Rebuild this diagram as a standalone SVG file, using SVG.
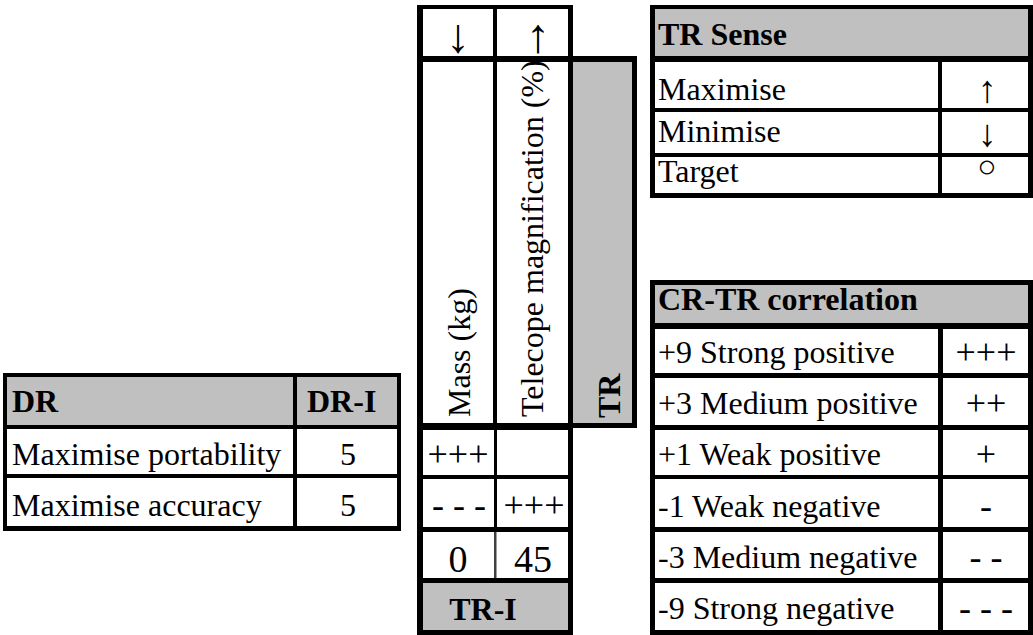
<svg xmlns="http://www.w3.org/2000/svg" width="1033" height="635" viewBox="0 0 1033 635">
<style>
.k{fill:#000}
.g{fill:#c0c0c0}
</style>
<rect fill="#fff" x="0" y="0" width="1033" height="635"/>

<g id="dr-table">
<rect class="g" x="7" y="377" width="390" height="48"/>
<rect class="k" x="3" y="373" width="398" height="4"/>
<rect class="k" x="3" y="373" width="4" height="158"/>
<rect class="k" x="397" y="373" width="4" height="158"/>
<rect class="k" x="293" y="373" width="4" height="158"/>
<rect class="k" x="3" y="425" width="398" height="4"/>
<rect class="k" x="3" y="474" width="398" height="4"/>
<rect class="k" x="3" y="526" width="398" height="5"/>
<text font-family="Liberation Serif" font-size="32" font-weight="bold" x="12" y="412">DR</text>
<text font-family="Liberation Serif" font-size="32" font-weight="bold" x="307" y="412">DR-I</text>
<text font-family="Liberation Serif" font-size="32" x="12" y="465">Maximise portability</text>
<text font-family="Liberation Serif" font-size="32" text-anchor="middle" x="348" y="465">5</text>
<text font-family="Liberation Serif" font-size="32" x="12" y="516">Maximise accuracy</text>
<text font-family="Liberation Serif" font-size="32" text-anchor="middle" x="348" y="516">5</text>
</g>

<g id="tr-matrix">
<rect class="g" x="573" y="62" width="59" height="361"/>
<rect class="g" x="423" y="583" width="145" height="47"/>
<rect class="k" x="417" y="5" width="6" height="630"/>
<rect class="k" x="417" y="5" width="156" height="4"/>
<rect class="k" x="417" y="56" width="220" height="6"/>
<rect class="k" x="568" y="5" width="5" height="630"/>
<rect class="k" x="632" y="56" width="5" height="372"/>
<rect class="k" x="568" y="423" width="69" height="5"/>
<rect class="k" x="417" y="423" width="156" height="7"/>
<rect class="k" x="417" y="475" width="156" height="4"/>
<rect class="k" x="417" y="527" width="156" height="5"/>
<rect class="k" x="417" y="578" width="156" height="5"/>
<rect class="k" x="417" y="630" width="156" height="5"/>
<rect class="k" x="493" y="5" width="4" height="425"/>
<rect class="k" x="494" y="430" width="3" height="102"/>
<rect fill="#404040" x="494" y="532" width="2.5" height="46"/>
<text font-family="Liberation Serif" font-size="48" text-anchor="middle" x="458" y="52">↓</text>
<text font-family="Liberation Serif" font-size="48" text-anchor="middle" x="538" y="52">↑</text>
<text font-family="Liberation Serif" font-size="32" transform="translate(470,417) rotate(-90)">Mass (kg)</text>
<text font-family="Liberation Serif" font-size="32" transform="translate(543,417) rotate(-90)">Telecope magnification (%)</text>
<text font-family="Liberation Serif" font-size="32" font-weight="bold" transform="translate(620,418) rotate(-90)">TR</text>
<text font-family="Liberation Serif" font-size="36" text-anchor="middle" x="458" y="466">+++</text>
<text font-family="Liberation Serif" font-size="36" text-anchor="middle" x="459" y="517">- - -</text>
<text font-family="Liberation Serif" font-size="36" text-anchor="middle" x="534" y="517">+++</text>
<text font-family="Liberation Serif" font-size="38" text-anchor="middle" x="458" y="572">0</text>
<text font-family="Liberation Serif" font-size="38" text-anchor="middle" x="533" y="572">45</text>
<text font-family="Liberation Serif" font-size="32" font-weight="bold" text-anchor="middle" x="483" y="620">TR-I</text>
</g>

<g id="tr-sense">
<rect class="g" x="655" y="9" width="373" height="47"/>
<rect class="k" x="650" y="5" width="383" height="4"/>
<rect class="k" x="650" y="5" width="5" height="193"/>
<rect class="k" x="1028" y="5" width="5" height="193"/>
<rect class="k" x="650" y="56" width="383" height="6"/>
<rect class="k" x="650" y="108" width="383" height="4"/>
<rect class="k" x="650" y="153" width="383" height="4"/>
<rect class="k" x="650" y="193" width="383" height="5"/>
<rect class="k" x="938" y="62" width="4" height="131"/>
<text font-family="Liberation Serif" font-size="32" font-weight="bold" x="658" y="45">TR Sense</text>
<text font-family="Liberation Serif" font-size="32" x="658" y="100">Maximise</text>
<text font-family="Liberation Serif" font-size="32" x="658" y="142">Minimise</text>
<text font-family="Liberation Serif" font-size="32" x="658" y="182">Target</text>
<text font-family="Liberation Serif" font-size="38" text-anchor="middle" x="987" y="102">↑</text>
<text font-family="Liberation Serif" font-size="38" text-anchor="middle" x="987" y="146">↓</text>
<text font-family="Liberation Serif" font-size="32" text-anchor="middle" x="987" y="177">○</text>
</g>

<g id="cr-tr-correlation">
<rect class="g" x="655" y="285" width="373" height="38"/>
<rect class="k" x="650" y="280" width="383" height="5"/>
<rect class="k" x="650" y="280" width="5" height="355"/>
<rect class="k" x="1028" y="280" width="5" height="355"/>
<rect class="k" x="650" y="323" width="383" height="6"/>
<rect class="k" x="650" y="373" width="383" height="5"/>
<rect class="k" x="650" y="425" width="383" height="5"/>
<rect class="k" x="650" y="475" width="383" height="4"/>
<rect class="k" x="650" y="527" width="383" height="5"/>
<rect class="k" x="650" y="578" width="383" height="5"/>
<rect class="k" x="650" y="630" width="383" height="5"/>
<rect class="k" x="938" y="329" width="5" height="301"/>
<text font-family="Liberation Serif" font-size="32" font-weight="bold" x="658" y="310">CR-TR correlation</text>
<text font-family="Liberation Serif" font-size="32" x="658" y="363">+9 Strong positive</text>
<text font-family="Liberation Serif" font-size="32" x="658" y="414">+3 Medium positive</text>
<text font-family="Liberation Serif" font-size="32" x="658" y="465">+1 Weak positive</text>
<text font-family="Liberation Serif" font-size="32" x="658" y="517">-1 Weak negative</text>
<text font-family="Liberation Serif" font-size="32" x="658" y="568">-3 Medium negative</text>
<text font-family="Liberation Serif" font-size="32" x="658" y="619">-9 Strong negative</text>
<text font-family="Liberation Serif" font-size="36" text-anchor="middle" x="986" y="364">+++</text>
<text font-family="Liberation Serif" font-size="36" text-anchor="middle" x="986" y="415">++</text>
<text font-family="Liberation Serif" font-size="36" text-anchor="middle" x="986" y="466">+</text>
<text font-family="Liberation Serif" font-size="36" text-anchor="middle" x="986" y="518">-</text>
<text font-family="Liberation Serif" font-size="36" text-anchor="middle" x="986" y="569">- -</text>
<text font-family="Liberation Serif" font-size="36" text-anchor="middle" x="986" y="620">- - -</text>
</g>
</svg>
